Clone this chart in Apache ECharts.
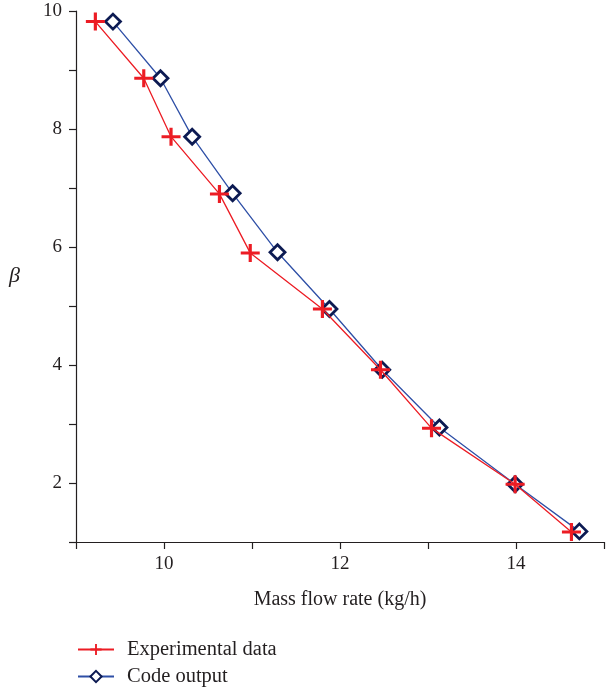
<!DOCTYPE html>
<html>
<head>
<meta charset="utf-8">
<script src="https://cdn.jsdelivr.net/npm/echarts@6/dist/echarts.min.js"></script>
<style>
  html, body { margin: 0; padding: 0; background: #fff; }
  #chart { width: 607px; height: 689px; }
</style>
</head>
<body>
<div id="chart"></div>
<script>
// Mass flow rate (kg/h) versus beta
const experimentalFlow = [9.22, 9.77, 10.08, 10.63, 10.98, 11.80, 12.46, 13.04, 13.99, 14.63];
const experimentalBeta = [9.82, 8.86, 7.87, 6.90, 5.90, 4.95, 3.92, 2.93, 1.98, 1.17];
const codeFlow = [9.42, 9.96, 10.32, 10.78, 11.29, 11.88, 12.48, 13.13, 13.99, 14.72];
const codeBeta = [9.82, 8.86, 7.87, 6.91, 5.91, 4.95, 3.92, 2.94, 1.98, 1.18];
const seriesNames = ['Experimental data', 'Code output'];

const pair = (xs, ys) => xs.map((x, i) => [x, ys[i]]);
const FONT = '"Liberation Serif", "DejaVu Serif", serif';
const INK = '#231f20';
const crossPath = 'path://M7.5,0H10.5V7.5H18V10.5H10.5V18H7.5V10.5H0V7.5H7.5Z';

const chart = echarts.init(document.getElementById('chart'), null, { renderer: 'canvas' });
chart.setOption({
  animation: false,
  backgroundColor: '#fff',
  textStyle: { fontFamily: FONT, color: INK },
  grid: { left: 76, right: 1, top: 11, bottom: 147, containLabel: false },
  xAxis: {
    type: 'value', min: 9, max: 15, interval: 1,
    name: 'Mass flow rate (kg/h)', nameLocation: 'middle', nameGap: 48,
    nameTextStyle: { fontFamily: FONT, fontSize: 20, color: INK },
    axisLine: { show: true, lineStyle: { color: INK, width: 1.2 } },
    axisTick: { show: true, inside: false, length: 7, lineStyle: { color: INK, width: 1.2 } },
    axisLabel: {
      margin: 13, fontFamily: FONT, fontSize: 19, color: INK,
      formatter: v => (v % 2 === 0 ? String(v) : '')
    },
    splitLine: { show: false }
  },
  yAxis: {
    type: 'value', min: 1, max: 10, interval: 1,
    name: 'β', nameLocation: 'middle', nameGap: 56, nameRotate: 0,
    nameTextStyle: { fontFamily: FONT, fontSize: 22, fontStyle: 'italic', color: INK },
    axisLine: { show: true, lineStyle: { color: INK, width: 1.2 } },
    axisTick: { show: true, inside: false, length: 7, lineStyle: { color: INK, width: 1.2 } },
    axisLabel: {
      margin: 14, fontFamily: FONT, fontSize: 19, color: INK,
      formatter: v => (v % 2 === 0 ? String(v) : '')
    },
    splitLine: { show: false }
  },
  legend: {
    orient: 'vertical', left: 77, top: 639, padding: 0,
    itemWidth: 36, itemHeight: 14, itemGap: 6,
    textStyle: { fontFamily: FONT, fontSize: 20.5, color: INK, padding: [0, 0, 0, 8] },
    data: seriesNames
  },
  series: [
    {
      name: seriesNames[1], type: 'line',
      data: pair(codeFlow, codeBeta),
      symbol: 'diamond', symbolSize: 15,
      lineStyle: { color: '#2e4fa6', width: 1.3 },
      itemStyle: { color: '#ffffff', borderColor: '#0c1a52', borderWidth: 2.8 },
      z: 2
    },
    {
      name: seriesNames[0], type: 'line',
      data: pair(experimentalFlow, experimentalBeta),
      symbol: crossPath, symbolSize: [19, 18],
      lineStyle: { color: '#ec1c24', width: 1.3 },
      itemStyle: { color: '#ec1c24' },
      z: 3
    }
  ]
});
</script>
</body>
</html>
